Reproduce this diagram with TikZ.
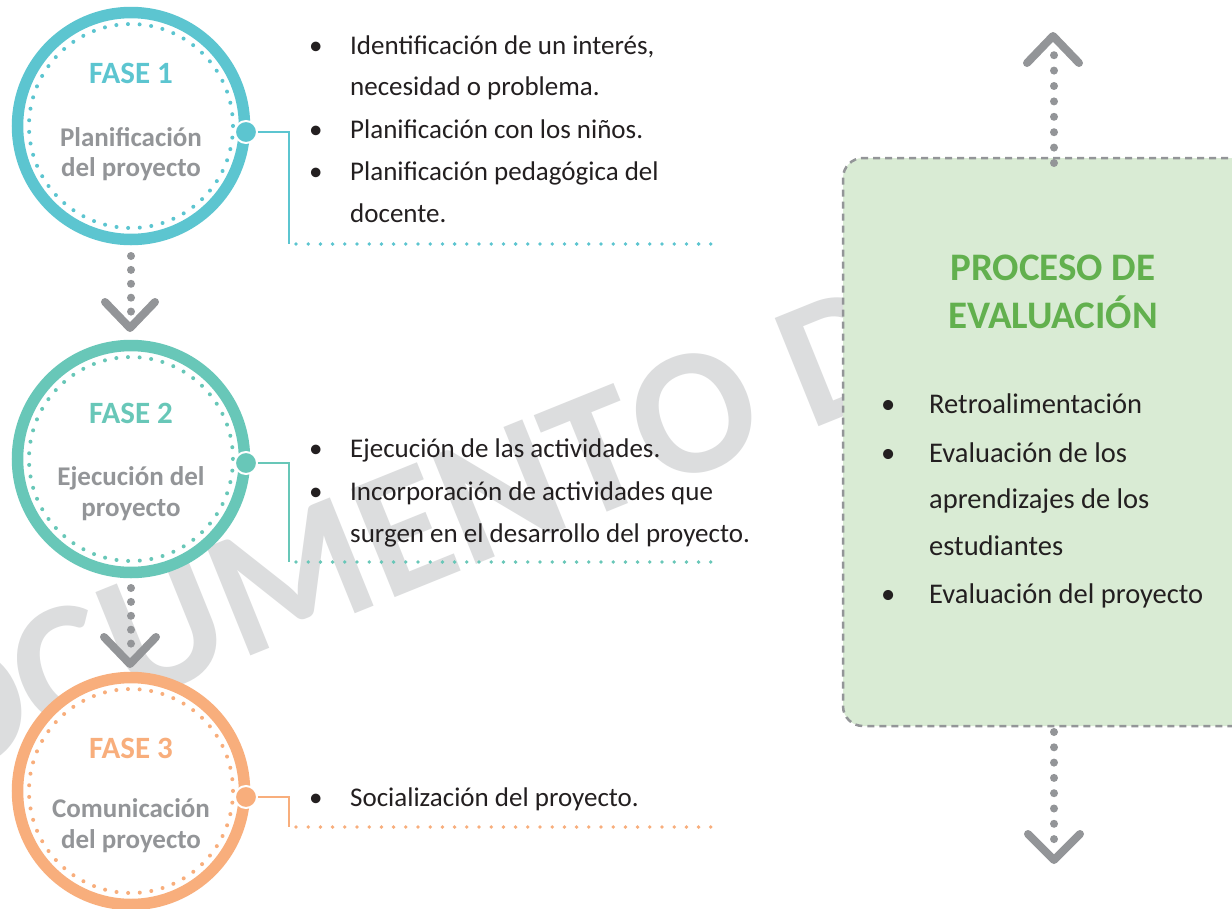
\documentclass[tikz,border=0pt]{standalone}
\usepackage{fontspec}
\setmainfont{Carlito}
\usetikzlibrary{calc}
\definecolor{cA}{HTML}{5CC5D0}
\definecolor{cB}{HTML}{68C7B8}
\definecolor{cC}{HTML}{F8AE7C}
\definecolor{gr}{HTML}{939598}
\definecolor{txt}{HTML}{231F20}
\definecolor{boxg}{HTML}{D9EBD4}
\definecolor{titg}{HTML}{62B04E}
\definecolor{wm}{HTML}{DCDDDE}
\begin{document}
\begin{tikzpicture}[x=1pt,y=-1pt,
 ring/.style={circle, draw=#1, line width=11.5pt, minimum size=227pt, fill=white, inner sep=0pt},
 innerdots/.style={draw=#1, line width=4pt, line cap=round, dash pattern=on 0pt off 11.65pt},
 phase/.style={anchor=base, inner sep=0pt, font=\fontsize{31}{36}\selectfont\bfseries, text=#1},
 sub/.style={anchor=base, inner sep=0pt, font=\fontsize{27}{31}\selectfont\bfseries, text=gr},
 knob/.style={circle, fill=#1, draw=white, line width=2pt, minimum size=22pt, inner sep=0pt},
 link/.style={draw=#1, line width=2.5pt},
 dotlink/.style={draw=#1, line width=3.8pt, line cap=round, dash pattern=on 0pt off 12.2pt},
 item/.style={anchor=base west, inner sep=0pt, font=\fontsize{27}{32}\selectfont, text=txt},
 bitem/.style={anchor=base west, inner sep=0pt, font=\fontsize{28.5}{32}\selectfont, text=txt},
 title/.style={anchor=base, inner sep=0pt, font=\fontsize{39}{44}\selectfont\bfseries, text=titg},
 dotarrow/.style={draw=gr, line width=8pt, line cap=round, dash pattern=on 0pt off #1},
 chevron/.style={draw=gr, line width=8pt, line cap=round, line join=round},
 evalbox/.style={draw=gr, line width=2.5pt, dash pattern=on 7pt off 5pt, fill=boxg, rounded corners=20pt, minimum width=417pt, minimum height=568pt, inner sep=0pt}
]
\useasboundingbox (0,0) rectangle (1232,908);
\fill[white] (0,0) rectangle (1232,908);

% watermark
\node[rotate=22, anchor=base west, inner sep=0pt, font=\fontsize{180}{180}\selectfont\bfseries, text=wm] (wmk) at (659,491) {\llap{DOCUMENT}O D};

% evaluation box
\node[evalbox] (box) at (1051.5,442) {};
\node[title] (t1) at (1053,280) {PROCESO DE};
\node[title] (t2) at (1053,328) {EVALUACIÓN};
\node[bitem] (b1) at (929,413) {\llap{\makebox[48pt][l]{•}}Retroalimentación};
\node[bitem] (b2) at (929,462) {\llap{\makebox[48pt][l]{•}}Evaluación de los};
\node[bitem] (b3) at (929,508) {aprendizajes de los};
\node[bitem] (b4) at (929,555) {estudiantes};
\node[bitem] (b5) at (929,603) {\llap{\makebox[48pt][l]{•}}Evaluación del proyecto};

% box arrows
\coordinate (up0) at (1054,163);
\coordinate (up1) at (1054,55);
\coordinate (uptip) at (1053,36);
\draw[dotarrow=15.4pt] (up0) -- (up1);
\draw[chevron] (1027,63) -- (uptip) -- (1079,63);
\coordinate (dn0) at (1054,732);
\coordinate (dn1) at (1054,840);
\coordinate (dntip) at (1054,860);
\draw[dotarrow=15.3pt] (dn0) -- (dn1);
\draw[chevron] (1028,834) -- (dntip) -- (1080,834);

% phase circles
\node[ring=cA] (c1) at (131,126) {};
\draw[innerdots=cA] (c1.center) circle (102);
\node[phase=cA] (p1) at (131,83) {FASE 1};
\node[sub] (s1a) at (131,146) {Planificación};
\node[sub] (s1b) at (131,176) {del proyecto};

\node[ring=cB] (c2) at (131,459) {};
\draw[innerdots=cB] (c2.center) circle (102);
\node[phase=cB] (p2) at (131,423) {FASE 2};
\node[sub] (s2a) at (131,485) {Ejecución del};
\node[sub] (s2b) at (131,516) {proyecto};

\node[ring=cC] (c3) at (131,791) {};
\draw[innerdots=cC] (c3.center) circle (102);
\node[phase=cC] (p3) at (131,758) {FASE 3};
\node[sub] (s3a) at (131,817) {Comunicación};
\node[sub] (s3b) at (131,848) {del proyecto};

% arrows between phases
\coordinate (a1s) at (131,256);
\coordinate (a1e) at (131,312);
\coordinate (a1t) at (130,328);
\draw[dotarrow=13.9pt] (a1s) -- (a1e);
\draw[chevron] (105,302) -- (a1t) -- (155,302);
\coordinate (a2s) at (131,588);
\coordinate (a2e) at (131,644);
\coordinate (a2t) at (130,664);
\draw[dotarrow=13.9pt] (a2s) -- (a2e);
\draw[chevron] (104,637) -- (a2t) -- (156,637);

% connectors
\coordinate (e1) at (289,244); \coordinate (f1) at (716,244);
\coordinate (e2) at (289,562); \coordinate (f2) at (716,562);
\coordinate (e3) at (289,827); \coordinate (f3) at (716,827);
\draw[link=cA] (246,132) -| (e1);
\draw[dotlink=cA] ($(e1)+(7,0)$) -- (f1);
\node[knob=cA] (k1) at (246,132) {};
\draw[link=cB] (246,463) -| (e2);
\draw[dotlink=cB] ($(e2)+(7,0)$) -- (f2);
\node[knob=cB] (k2) at (246,463) {};
\draw[link=cC] (246,797) -| (e3);
\draw[dotlink=cC] ($(e3)+(7,0)$) -- (f3);
\node[knob=cC] (k3) at (246,797) {};

% items
\node[item] (i1) at (350,54) {\llap{\makebox[41pt][l]{•}}Identificación de un interés,};
\node[item] (i2) at (350,95) {necesidad o problema.};
\node[item] (i3) at (350,138) {\llap{\makebox[41pt][l]{•}}Planificación con los niños.};
\node[item] (i4) at (350,180) {\llap{\makebox[41pt][l]{•}}Planificación pedagógica del};
\node[item] (i5) at (350,222) {docente.};
\node[item] (j1) at (350,457) {\llap{\makebox[41pt][l]{•}}Ejecución de las actividades.};
\node[item] (j2) at (350,500) {\llap{\makebox[41pt][l]{•}}Incorporación de actividades que};
\node[item] (j3) at (350,542) {surgen en el desarrollo del proyecto.};
\node[item] (m1) at (350,806) {\llap{\makebox[41pt][l]{•}}Socialización del proyecto.};
\end{tikzpicture}
\end{document}
